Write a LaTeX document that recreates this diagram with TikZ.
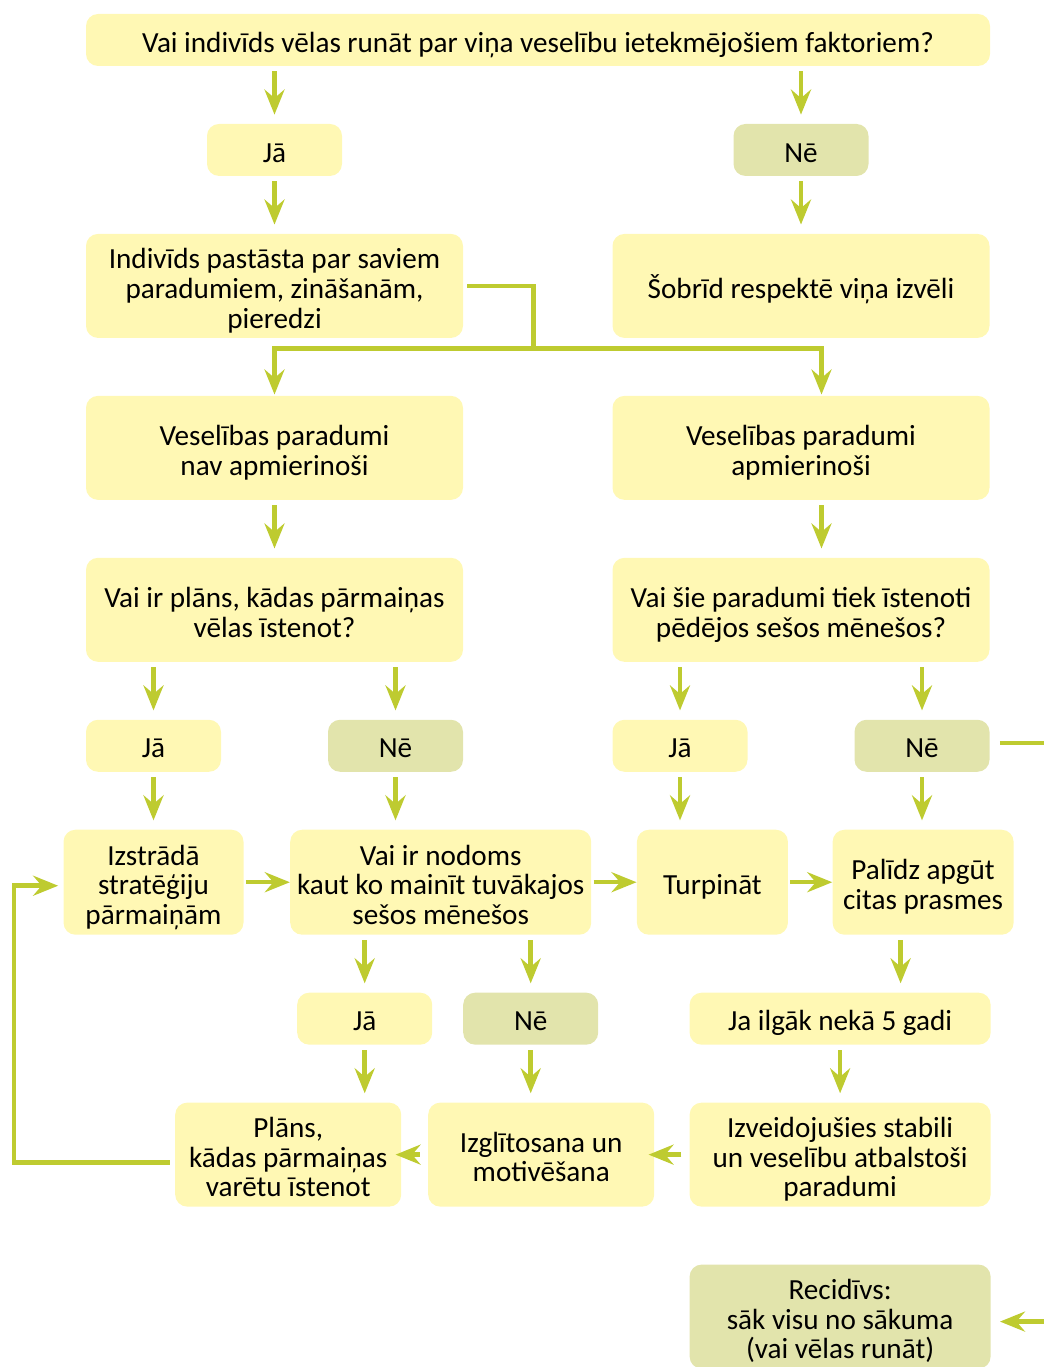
\documentclass[tikz,border=0pt]{standalone}
\usepackage{fontspec}
\setmainfont{Carlito}
\usetikzlibrary{arrows.meta,positioning}
\definecolor{boxyellow}{RGB}{255,248,180}
\definecolor{noolive}{RGB}{226,228,172}
\definecolor{arrowgreen}{RGB}{190,203,48}

\begin{document}
\begin{tikzpicture}[->,>={Stealth[length=0.5cm,width=0.4cm,inset=0.17cm]},
                    node distance=1.145cm and 0.9cm,
                    every edge/.style={draw=arrowgreen,line width=0.09cm},
                    conn/.style={draw=arrowgreen,line width=0.09cm},
                    vert/.style={shorten >=0.18cm,shorten <=0.1cm},
                    horiz/.style={shorten >=0pt,shorten <=0.04cm},
                    back/.style={shorten >=-0.12cm,shorten <=0.16cm},
                    main node/.style={rectangle,rounded corners=0.24cm,fill=boxyellow,align=center,
                                      inner xsep=2pt,inner ysep=0pt,font=\fontsize{16.6}{16.9}\selectfont,
                                      execute at begin node={\rule{0pt}{18.8pt}},
                                      execute at end node={\rule[-5pt]{0pt}{5pt}}},
                    two lines/.style={execute at begin node={\rule{0pt}{36pt}}},
                    three lines/.style={execute at begin node={\rule{0pt}{53pt}}},
                    no node/.style={main node,fill=noolive},
                    answer/.style={minimum width=2.7cm,minimum height=1.04cm},
                    big/.style={minimum width=7.54cm,minimum height=2.08cm}]

  \useasboundingbox (0,0) rectangle (20.88,-27.34);

  % question and first answers
  \node[main node,minimum width=18.08cm,minimum height=1.04cm] (top) at (10.76,-0.8)
       {Vai indivīds vēlas runāt par viņa veselību ietekmējošiem faktoriem?};
  \node[main node,answer] (ja1) [below=of top,xshift=-5.27cm] {Jā};
  \node[no node,answer] (ne1) [below=of top,xshift=5.26cm] {Nē};
  \node[main node,big,three lines] (indiv) [below=of ja1] {Indivīds pastāsta par saviem\\paradumiem, zināšanām,\\pieredzi};
  \node[main node,big] (sobrid) [below=of ne1] {Šobrīd respektē viņa izvēli};

  % habits
  \node[main node,big,two lines] (vesnav) [below=of indiv] {Veselības paradumi\\nav apmierinoši};
  \node[main node,big,two lines] (vesapm) [below=of sobrid] {Veselības paradumi\\apmierinoši};
  \node[main node,big,two lines] (vaiplan) [below=of vesnav] {Vai ir plāns, kādas pārmaiņas\\vēlas īstenot?};
  \node[main node,big,two lines] (vaisie) [below=of vesapm] {Vai šie paradumi tiek īstenoti\\pēdējos sešos mēnešos?};

  \node[main node,answer] (ja2) [below=of vaiplan,xshift=-2.42cm] {Jā};
  \node[no node,answer] (ne2) [below=of vaiplan,xshift=2.42cm] {Nē};
  \node[main node,answer] (ja3) [below=of vaisie,xshift=-2.42cm] {Jā};
  \node[no node,answer] (ne3) [below=of vaisie,xshift=2.42cm] {Nē};

  % middle row
  \node[main node,three lines,minimum width=3.6cm,minimum height=2.1cm] (izstr) [below=of ja2] {Izstrādā\\stratēģiju\\pārmaiņām};
  \node[main node,three lines,minimum width=6.02cm,minimum height=2.1cm] (nodoms) [right=0.92cm of izstr]
       {Vai ir nodoms\\kaut ko mainīt tuvākajos\\sešos mēnešos};
  \node[main node,minimum width=3.02cm,minimum height=2.1cm] (turp) [right=of nodoms] {Turpināt};
  \node[main node,two lines,minimum width=3.62cm,minimum height=2.1cm] (palidz) [right=0.88cm of turp] {Palīdz apgūt\\citas prasmes};

  \node[main node,answer] (ja4) [below=of nodoms,xshift=-1.52cm] {Jā};
  \node[no node,answer] (ne4) [below=of nodoms,xshift=1.8cm] {Nē};
  \node[main node,minimum width=6.02cm,minimum height=1.04cm] (jailgak) [below=of palidz,xshift=-1.66cm] {Ja ilgāk nekā 5 gadi};

  % bottom row
  \node[main node,three lines,minimum width=4.52cm,minimum height=2.08cm] (plans) [below=of ja4,xshift=-1.53cm]
       {Plāns,\\kādas pārmaiņas\\varētu īstenot};
  \node[main node,two lines,minimum width=4.52cm,minimum height=2.08cm] (izgl) [below=of ne4,xshift=0.21cm]
       {Izglītosana un\\motivēšana};
  \node[main node,three lines,minimum width=6.02cm,minimum height=2.08cm] (izveid) [below=of jailgak]
       {Izveidojušies stabili\\un veselību atbalstoši\\paradumi};
  \node[no node,three lines,minimum width=6.02cm,minimum height=2.08cm] (recid) [below=of izveid]
       {Recidīvs:\\sāk visu no sākuma\\(vai vēlas runāt)};

  \coordinate (fork) at ([xshift=1.4cm,yshift=-0.2cm]indiv.south east);
  \coordinate (rim) at ([xshift=1.5cm,yshift=0.06cm]ne3.east);

  % downward arrows
  \path[vert] (top.south -| ja1) edge (ja1.north)
              (top.south -| ne1) edge (ne1.north)
              (ja1) edge (indiv)
              (ne1) edge (sobrid)
              (vesnav.south) edge (vaiplan.north)
              ([xshift=0.41cm]vesapm.south) edge ([xshift=0.41cm]vaisie.north)
              (vaiplan.south -| ja2) edge (ja2.north)
              (vaiplan.south -| ne2) edge (ne2.north)
              (vaisie.south -| ja3) edge (ja3.north)
              (vaisie.south -| ne3) edge (ne3.north)
              (ja2.south) edge (ja2.south |- izstr.north)
              (ne2.south) edge (ne2.south |- nodoms.north)
              (ja3.south) edge (ja3.south |- turp.north)
              (ne3.south) edge (ne3.south |- palidz.north)
              (nodoms.south -| ja4) edge (ja4.north)
              (nodoms.south -| ne4) edge (ne4.north)
              ([xshift=-0.45cm]palidz.south) edge ([xshift=-0.45cm]palidz.south |- jailgak.north)
              (ja4.south) edge (ja4.south |- plans.north)
              (ne4.south) edge (ne4.south |- izgl.north)
              (jailgak) edge (izveid);

  % sideways arrows
  \path[horiz] (izstr) edge (nodoms)
               (nodoms) edge (turp)
               (turp) edge (palidz);
  \path[back] (izveid) edge (izgl)
              (izgl) edge (plans);

  % branch to both habit boxes
  \draw[conn,-,shorten <=0.08cm] (indiv.east) -| (fork);
  \draw[conn,shorten >=0.02cm] (fork) -| (vesnav.north);
  \draw[conn,shorten >=0.02cm] (fork) -| ([xshift=0.41cm]vesapm.north);

  % loop back and relapse
  \draw[conn,shorten <=0.1cm,shorten >=0.1cm] ([yshift=-0.16cm]plans.west) -- ++(-3.22cm,0)
       |- ([yshift=-0.07cm]izstr.west);
  \draw[conn,shorten <=0.2cm,shorten >=0.18cm] ([yshift=0.06cm]ne3.east) -- (rim)
       |- ([yshift=-0.1cm]recid.east);

\end{tikzpicture}
\end{document}
